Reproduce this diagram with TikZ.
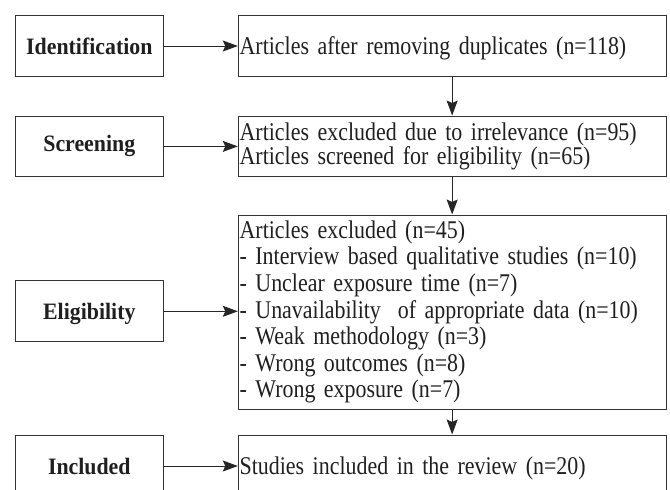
\documentclass[tikz,border=0pt]{standalone}
\usepackage{fontspec}
\setmainfont{Liberation Serif}[FakeStretch=0.86]
\newfontfamily\stagefont{Liberation Serif}[FakeStretch=0.93]
\usetikzlibrary{arrows.meta}
\begin{document}
\begin{tikzpicture}[x=1pt,y=-1pt,
 stage/.style={draw=black!80, line width=1pt, font=\stagefont\fontsize{23.5}{26}\selectfont\bfseries, text=black!88, minimum width=148pt, inner sep=0pt},
 info/.style={draw=black!80, line width=1pt, text=black!88, minimum width=427.7pt, text width=425pt, align=left, inner xsep=1.2pt, inner ysep=0pt},
 conn/.style={draw=black!85, line width=1pt, -{Stealth[length=15pt,width=11pt,inset=2.5pt]}}
]
\useasboundingbox (0,0) rectangle (670,490);
\clip (0,0) rectangle (670,490);

\node[stage, minimum height=61.4pt, text depth=0pt] (id) at (89.3,46) {Identification};
\node[stage, minimum height=60.7pt] (sc) at (89.3,146.4) {Screening};
\node[stage, minimum height=61pt, text depth=0pt] (el) at (89.3,311.3) {Eligibility};
\node[stage, minimum height=62pt, text depth=0pt] (in) at (89.3,466) {Included};

\node[info, minimum height=61.4pt, text depth=0pt, font=\fontsize{25.5}{26}\selectfont] (r1) at (452.15,46) {Articles after removing duplicates (n=118)};
\node[info, minimum height=60.7pt, font=\fontsize{25.5}{21.7}\selectfont] (r2) at (452.15,146.4) {Articles excluded due to irrelevance (n=95)\\Articles screened for eligibility (n=65)};
\node[info, minimum height=194pt, font=\fontsize{25.5}{26.6}\selectfont] (r3) at (452.15,312) {Articles excluded (n=45)\\- Interview based qualitative studies (n=10)\\- Unclear exposure time (n=7)\\- Unavailability\ \ of appropriate data (n=10)\\- Weak methodology (n=3)\\- Wrong outcomes (n=8)\\- Wrong exposure (n=7)};
\node[info, minimum height=62pt, text depth=0pt, font=\fontsize{25.5}{26}\selectfont] (r4) at (452.15,466) {Studies included in the review (n=20)};

\draw[conn] (id) -- (r1);
\draw[conn] (sc) -- (r2);
\draw[conn] (el.east) -- (el.east -| r3.west);
\draw[conn] (in) -- (r4);
\draw[conn] (r1) -- (r2);
\draw[conn] (r2) -- (r3);
\draw[conn] (r3) -- (r4);
\end{tikzpicture}
\end{document}
